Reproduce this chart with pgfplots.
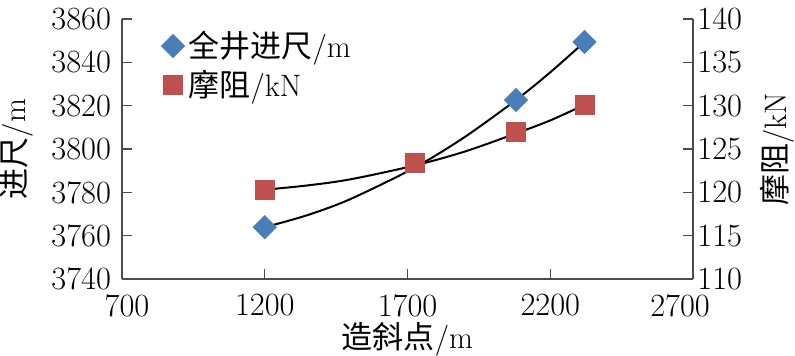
\documentclass[border=0pt]{standalone}
\usepackage{fontspec}
\usepackage{pgfplots}
\pgfplotsset{compat=1.18}
\newfontfamily\cjk{Noto Sans CJK SC}
\definecolor{myblue}{RGB}{74,126,187}
\definecolor{myred}{RGB}{192,80,77}
\begin{document}
\begin{tikzpicture}
\useasboundingbox (-61pt,-38pt) rectangle (336.5pt,139.5pt);
\pgfplotsset{
 common/.style={
  scale only axis, width=285.5pt, height=130pt, at={(0,0)}, anchor=south west,
  xmin=700, xmax=2700, tick align=inside, major tick length=5pt,
  every tick/.style={black!70, line width=0.6pt},
  axis line style={black!70, line width=0.75pt},
  tick label style={font=\fontsize{16.2}{19}\selectfont},
  label style={font=\fontsize{15.5}{18}\selectfont},
  /pgf/number format/1000 sep={},
  /pgf/number format/assume math mode=true,
  clip=false,
 }
}
\begin{axis}[common,
 axis x line*=bottom, axis y line*=left,
 ymin=3740, ymax=3860, ytick={3740,3760,...,3860},
 xtick={700,1200,...,2700},
 xticklabels={\hspace*{5pt}700,1200,1700,2200,\hspace*{-13pt}2700},
 yticklabel style={xshift=-2pt},
 xticklabel style={yshift=-5.5pt, inner sep=2pt},
 xlabel={{\cjk 造斜点}/m}, ylabel={{\cjk 进尺}/m},
 xlabel style={at={(axis description cs:0.5,-0.232)}, anchor=center},
 ylabel style={at={(axis description cs:-0.1839,0.5)}, anchor=center},
 legend style={draw=none, fill=none, font=\fontsize{15.5}{18}\selectfont,
   at={(axis description cs:0.058,0.985)}, anchor=north west,
   cells={anchor=west}, row sep=1pt},
]
\addplot[only marks, mark=square*, mark size=4.07pt, color=myblue,
  mark options={rotate=45, fill=myblue, draw=none}]
  coordinates {(1200,3763.9) (2080,3822.6) (2320,3849.4)};
\addlegendentry{{\cjk 全井进尺}/m}
\addlegendimage{only marks, mark=square*, mark size=4.75pt, color=myred, mark options={fill=myred, draw=none}}
\addlegendentry{{\cjk 摩阻}/kN}
\addplot[black, line width=1pt, smooth, no marks, forget plot]
  coordinates {(1200,3763.9) (1350,3769.5) (1500,3776.9) (1725,3791.4) (1900,3805.5) (2080,3822.6) (2200,3835.4) (2320,3849.4)};
\end{axis}
\begin{axis}[common,
 axis y line*=right, axis x line=none,
 ymin=110, ymax=140, ytick={110,115,...,140},
 yticklabel style={xshift=-1.3pt},
 ylabel={{\cjk 摩阻}/kN},
 ylabel style={at={(axis description cs:1.147,0.5)}, anchor=center},
]
\addplot[only marks, mark=square*, mark size=4.75pt, color=myred,
  mark options={fill=myred, draw=none}]
  coordinates {(1200,120.3) (1725,123.4) (2080,127.0) (2320,130.1)};
\addplot[black, line width=1pt, smooth, no marks]
  coordinates {(1200,120.3) (1350,120.8) (1500,121.5) (1725,123.1) (1900,124.7) (2080,126.8) (2200,128.3) (2320,130.1)};
\end{axis}
\end{tikzpicture}
\end{document}
